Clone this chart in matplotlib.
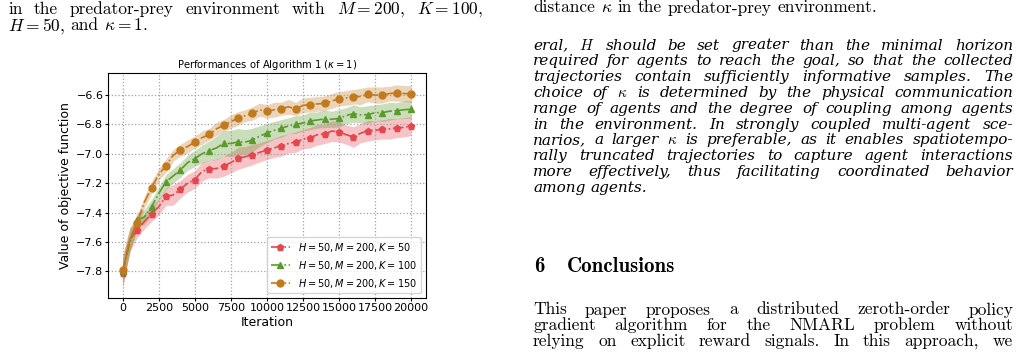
import matplotlib
matplotlib.use('Agg')
import matplotlib.pyplot as plt
import numpy as np

# iterations at which the curves were logged
iters = list(range(0, 20001, 500))

red_mean = [-7.81, -7.58, -7.52, -7.46, -7.41, -7.36, -7.29, -7.28, -7.24, -7.20,
            -7.175, -7.12, -7.103, -7.10, -7.083, -7.06, -7.03, -7.02, -7.005, -6.99,
            -6.974, -6.96, -6.945, -6.93, -6.92, -6.90, -6.89, -6.87, -6.865, -6.845,
            -6.85, -6.87, -6.885, -6.86, -6.843, -6.84, -6.834, -6.83, -6.824, -6.82,
            -6.811]
red_std = [0.10, 0.08, 0.05, 0.05, 0.05, 0.055, 0.06, 0.07, 0.06, 0.06,
           0.06, 0.065, 0.06, 0.065, 0.07, 0.07, 0.075, 0.07, 0.07, 0.065,
           0.065, 0.065, 0.07, 0.065, 0.07, 0.065, 0.07, 0.07, 0.065, 0.07,
           0.07, 0.065, 0.07, 0.065, 0.07, 0.065, 0.065, 0.07, 0.065, 0.065,
           0.065]

green_mean = [-7.80, -7.60, -7.45, -7.43, -7.36, -7.27, -7.19, -7.15, -7.11, -7.06,
              -7.032, -7.00, -6.978, -6.96, -6.928, -6.93, -6.918, -6.92, -6.906, -6.88,
              -6.858, -6.84, -6.827, -6.81, -6.80, -6.79, -6.776, -6.77, -6.762, -6.765,
              -6.759, -6.74, -6.726, -6.735, -6.733, -6.72, -6.72, -6.71, -6.707, -6.70,
              -6.696]
green_std = [0.10, 0.07, 0.05, 0.05, 0.05, 0.045, 0.05, 0.05, 0.05, 0.05,
             0.055, 0.06, 0.065, 0.08, 0.085, 0.09, 0.09, 0.085, 0.08, 0.07,
             0.065, 0.06, 0.06, 0.055, 0.06, 0.055, 0.06, 0.055, 0.06, 0.055,
             0.06, 0.055, 0.06, 0.055, 0.06, 0.055, 0.06, 0.06, 0.055, 0.06,
             0.06]

orange_mean = [-7.79, -7.58, -7.47, -7.33, -7.23, -7.14, -7.08, -7.01, -6.975, -6.95,
               -6.92, -6.89, -6.867, -6.83, -6.806, -6.78, -6.759, -6.74, -6.725, -6.70,
               -6.711, -6.70, -6.693, -6.68, -6.695, -6.67, -6.665, -6.66, -6.657, -6.64,
               -6.625, -6.62, -6.611, -6.61, -6.595, -6.60, -6.60, -6.59, -6.586, -6.59,
               -6.591]
orange_std = [0.10, 0.08, 0.05, 0.04, 0.04, 0.04, 0.045, 0.04, 0.04, 0.045,
              0.04, 0.045, 0.04, 0.045, 0.04, 0.045, 0.045, 0.04, 0.045, 0.045,
              0.045, 0.05, 0.045, 0.05, 0.045, 0.05, 0.05, 0.05, 0.05, 0.05,
              0.05, 0.05, 0.05, 0.055, 0.05, 0.055, 0.055, 0.05, 0.055, 0.055,
              0.055]

labels = [r'$H=50, M=200, K=50$', r'$H=50, M=200, K=100$', r'$H=50, M=200, K=150$']

W, H = 1018, 358
fig = plt.figure(figsize=(W / 100, H / 100), dpi=100)
ax = fig.add_axes([108.3 / W, 1 - 298.3 / H, (425.5 - 108.3) / W, (298.3 - 73.3) / H])

series = [(red_mean, red_std, '#e5474e', 'p', 4.8),
          (green_mean, green_std, '#5c9a2c', '^', 4.8),
          (orange_mean, orange_std, '#c27a1f', 'o', 5)]
for (m, s, c, mk, ms), lab in zip(series, labels):
    m = np.array(m)
    s = np.array(s)
    ax.fill_between(iters, m - s, m + s, color=c, alpha=0.32, lw=0)
    ax.plot(iters, m, ls='-.', lw=1.2, color=c, marker=mk, ms=ms, markevery=2, label=lab)

ax.set_ylim(-7.983, -6.452)
ax.set_yticks([-7.8, -7.6, -7.4, -7.2, -7.0, -6.8, -6.6])
ax.set_xticks(range(0, 20001, 2500))
ax.grid(True, ls=':', color='#a0a0a0', lw=0.9)
ax.tick_params(labelsize=8, length=2, pad=1.5)
ax.set_xlabel('Iteration', fontsize=9, labelpad=2)
ax.set_ylabel('Value of objective function', fontsize=9, labelpad=3)
ax.set_title(r'Performances of Algorithm 1 ($\kappa=1$)', fontsize=7.2, pad=4)
ax.legend(loc='lower right', fontsize=7)

# surrounding page text
rend = fig.canvas.get_renderer()


def put_line(s, x0, y, x1=None, **kw):
    words = s.split()
    ts = [fig.text(0, 1 - y / H, w, va='baseline', ha='left', **kw) for w in words]
    ws = [t.get_window_extent(rend).width for t in ts]
    if x1 is None or len(ws) < 2:
        gap = 0.33 * kw.get('fontsize', 10) * 100 / 72
    else:
        gap = (x1 - x0 - sum(ws)) / (len(ws) - 1)
    x = x0
    for t, w in zip(ts, ws):
        t.set_x(x / W)
        x += w + gap


rm = dict(family='cmr10', fontsize=12.5, math_fontfamily='cm')
it = dict(family='DejaVu Serif', style='italic', fontsize=11, math_fontfamily='cm')

put_line(r'in the predator-prey environment with $M=200$, $K=100$,', 8, 14, 483, **rm)
put_line(r'$H=50$, and $\kappa=1$.', 8, 30.5, **rm)
put_line(r'distance $\kappa$ in the predator-prey environment.', 533, 12.5, **rm)

para = [r'eral, $H$ should be set greater than the minimal horizon',
        'required for agents to reach the goal, so that the collected',
        'trajectories contain sufficiently informative samples. The',
        r'choice of $\kappa$ is determined by the physical communication',
        'range of agents and the degree of coupling among agents',
        'in the environment. In strongly coupled multi-agent sce-',
        r'narios, a larger $\kappa$ is preferable, as it enables spatiotempo-',
        'rally truncated trajectories to capture agent interactions',
        'more effectively, thus facilitating coordinated behavior',
        'among agents.']
for i, s in enumerate(para):
    last = i == len(para) - 1
    put_line(s, 533, 49.5 + i * 15.8, None if last else 1013, **it)

fig.text(534 / W, 1 - 271.5 / H, '6', family='cmb10', fontsize=15, va='baseline')
fig.text(567 / W, 1 - 271.5 / H, 'Conclusions', family='cmb10', fontsize=15, va='baseline')

concl = ['This paper proposes a distributed zeroth-order policy',
         'gradient algorithm for the NMARL problem without',
         'relying on explicit reward signals. In this approach, we']
for i, s in enumerate(concl):
    put_line(s, 533, 314.5 + i * 15.6, 1013, **rm)

fig.savefig('out.png', dpi=100)
